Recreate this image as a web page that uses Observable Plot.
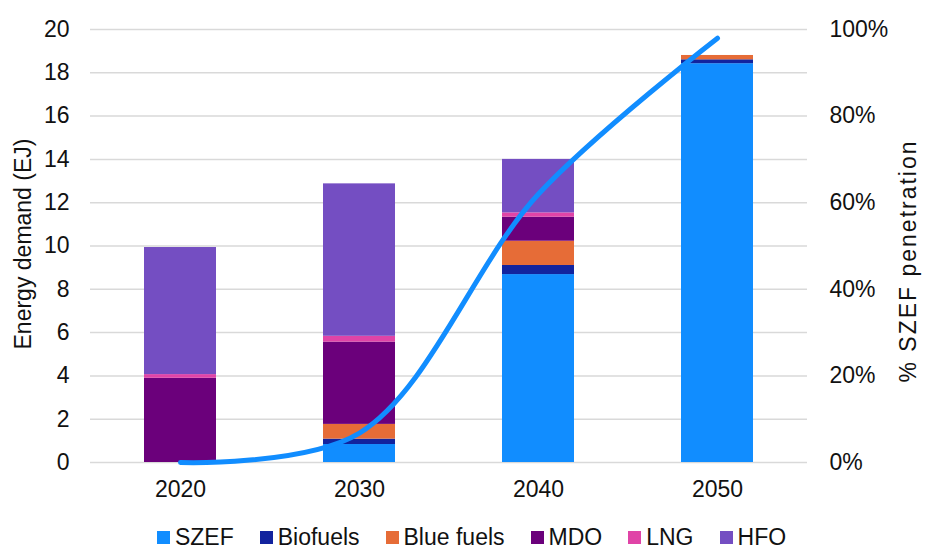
<!DOCTYPE html>
<html>
<head>
<meta charset="utf-8">
<script src="https://cdn.jsdelivr.net/npm/d3@7"></script>
<script src="https://cdn.jsdelivr.net/npm/@observablehq/plot@0.6"></script>
<style>
  html, body { margin: 0; padding: 0; background: #fff; }
  body { width: 925px; height: 551px; overflow: hidden; font-family: "Liberation Sans", Arial, sans-serif; }
  #chart svg { display: block; }
  #legend { display: flex; justify-content: center; align-items: center; height: 20px; margin-top: 12px; padding-left: 18px;
            font-size: 23px; line-height: 20px; color: #111; font-family: "Liberation Sans", Arial, sans-serif; }
  .item { display: flex; align-items: center; margin: 0 13px; white-space: nowrap; }
  .sw { width: 13px; height: 13px; margin-right: 5px; flex: none; }
</style>
</head>
<body>
<div id="chart"></div>
<div id="legend"></div>
<script>
const years = ["2020", "2030", "2040", "2050"];
const fuels = ["SZEF", "Biofuels", "Blue fuels", "MDO", "LNG", "HFO"];
const fuelColors = ["#118DFF", "#12239E", "#E66C37", "#6B007B", "#E044A7", "#744EC2"];
const szef      = [0,    0.83, 8.68, 18.42];
const biofuels  = [0,    0.25, 0.42, 0.18];
const blueFuels = [0,    0.68, 1.12, 0.20];
const mdo       = [3.89, 3.80, 1.11, 0];
const lng       = [0.17, 0.27, 0.20, 0];
const hfo       = [5.87, 7.04, 2.47, 0];
const szefShare = [0, 6.8, 62, 98]; // % SZEF penetration
const yTicks = [0, 2, 4, 6, 8, 10, 12, 14, 16, 18, 20];
const pctTicks = [0, 20, 40, 60, 80, 100];

const series = [szef, biofuels, blueFuels, mdo, lng, hfo];
const stacked = [];
years.forEach((yr, i) => fuels.forEach((f, j) => stacked.push({year: yr, fuel: f, value: series[j][i]})));
const share = years.map((yr, i) => ({year: yr, pct: szefShare[i]}));
const pctToY = p => p / 100 * 20;

const chart = Plot.plot({
  width: 925,
  height: 515,
  marginLeft: 90,
  marginRight: 118,
  marginTop: 29,
  marginBottom: 53,
  style: {fontFamily: "Liberation Sans, Arial, sans-serif", fontSize: "23px", color: "#111", background: "#fff"},
  x: {domain: years, paddingInner: 0.6, paddingOuter: 0.3, label: null},
  y: {domain: [0, 20], label: null},
  color: {domain: fuels, range: fuelColors},
  marks: [
    Plot.gridY(yTicks, {stroke: "#d9d9d9", strokeOpacity: 1, strokeWidth: 1.5}),
    Plot.axisY({ticks: yTicks, tickSize: 0, tickPadding: 21, label: null}),
    Plot.axisY({anchor: "right", ticks: pctTicks.map(pctToY), tickFormat: (d) => Math.round(d * 5) + "%",
                tickSize: 0, tickPadding: 22, textAnchor: "start", label: null}),
    Plot.axisX({tickSize: 0, tickPadding: 18, label: null}),
    Plot.barY(stacked, {x: "year", y: "value", fill: "fuel", order: fuels}),
    Plot.line(share, {x: "year", y: d => pctToY(d.pct), stroke: "#118DFF", strokeWidth: 5,
                      curve: "catmull-rom", strokeLinecap: "round"}),
    Plot.text(["Energy demand (EJ)"], {frameAnchor: "left", textAnchor: "middle", dx: -67, dy: -2, rotate: -90, fontSize: 23, fill: "#111"}),
    Plot.text(["% SZEF penetration"], {frameAnchor: "right", textAnchor: "middle", dx: 101, dy: 15, rotate: -90, fontSize: 23, fill: "#111"})
  ]
});
chart.querySelectorAll("text").forEach(t => {
  if (t.textContent === "% SZEF penetration") t.style.letterSpacing = "2px";
});
document.getElementById("chart").appendChild(chart);

const legend = document.getElementById("legend");
fuels.forEach((f, i) => {
  const it = document.createElement("div");
  it.className = "item";
  const sw = document.createElement("div");
  sw.className = "sw";
  sw.style.background = fuelColors[i];
  const tx = document.createElement("span");
  tx.textContent = f;
  it.appendChild(sw);
  it.appendChild(tx);
  legend.appendChild(it);
});
</script>
</body>
</html>
